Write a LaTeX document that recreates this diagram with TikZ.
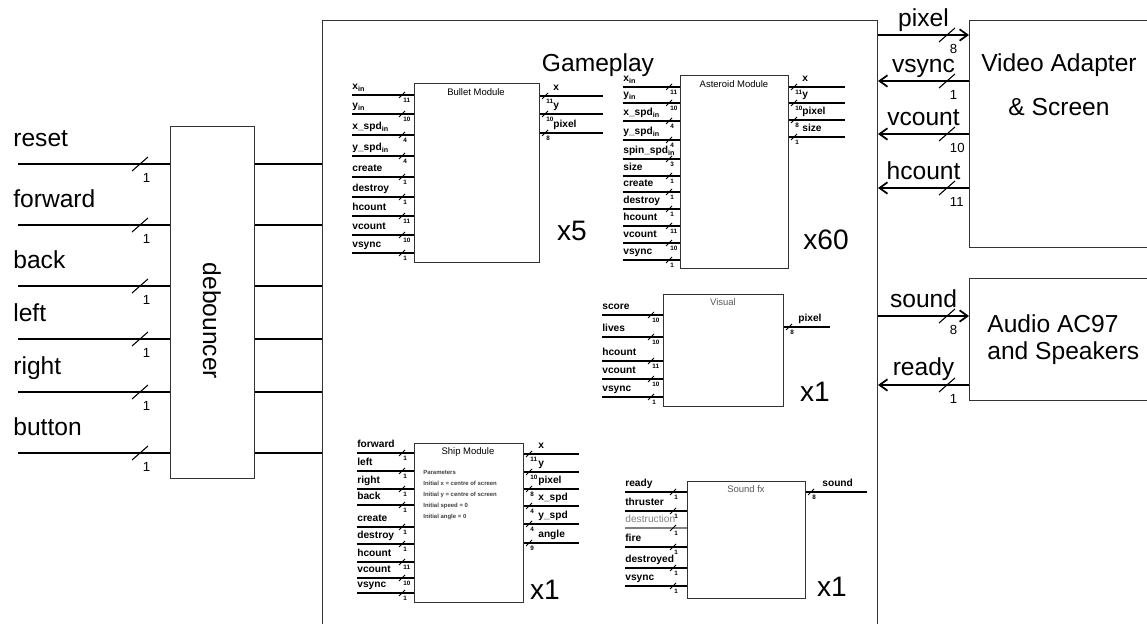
\documentclass[tikz,border=0pt]{standalone}
\usepackage{fontspec}
\setmainfont{Liberation Sans}
\usetikzlibrary{arrows.meta, positioning}

\newcommand{\pxl}{0.02cm}

\tikzset{
  blk/.style={draw=black!80, line width=0.6pt, anchor=north west, inner sep=0pt},
  sig/.style={line width=1.1pt},
  lnk/.style={line width=0.6pt},
  arw/.style={line width=1pt, arrows={-Straight Barb[length=4.5pt, width=6.5pt]}},
  slash/.style={line width=0.45pt},
  bslash/.style={line width=0.6pt},
  sname/.style={font=\fontsize{5.8}{7}\selectfont\bfseries, anchor=base west, inner sep=0pt},
  bw/.style={font=\fontsize{3.6}{4}\selectfont\bfseries, anchor=north west, inner sep=0pt, xshift=0.6pt, yshift=-1.7pt},
  wbig/.style={font=\fontsize{7.5}{9}\selectfont, anchor=north west, inner sep=0pt, xshift=1.5pt, yshift=-5pt},
  big/.style={font=\fontsize{14}{17}\selectfont, inner sep=0pt},
  mult/.style={font=\fontsize{16}{19}\selectfont, anchor=base, inner sep=0pt},
  mtitle/.style={font=\fontsize{5.4}{6.5}\selectfont, anchor=north, inner sep=0pt},
}

\begin{document}
\begin{tikzpicture}[x=0.02cm, y=-0.02cm]
  \useasboundingbox (0,0) rectangle (1147,624);
  \clip (0,0) rectangle (1147,624);

  % Gameplay frame
  \node[blk, minimum width=555*\pxl, minimum height=640*\pxl] (gameplay) at (322,20) {};
  \node[big] (gptitle) at (598,65) {Gameplay};

  % Debouncer
  \node[blk, minimum width=84*\pxl, minimum height=352*\pxl] (deb) at (170,126) {};
  \node[big, rotate=-90] (debtxt) at (212,321) {debouncer};
  \foreach \yy/\nm [count=\i] in {164/reset, 225/forward, 286/back, 339/left, 392/right, 453/button} {
    \coordinate (din\i) at (18,\yy);
    \draw[lnk] (din\i) -- (din\i -| deb.west);
    \draw[lnk] (din\i -| deb.east) -- (din\i -| gameplay.west);
    \node[big, anchor=base west] (dlab\i) at (13,\yy-17) {\nm};
    \path (din\i -| deb.west) ++(-30,0) coordinate (dsl\i);
    \draw[bslash] (dsl\i) ++(-8,7) -- ++(16,-14);
    \node[wbig] (dw\i) at (dsl\i) {1};
  }

  % Bullet Module
  \node[blk, minimum width=125*\pxl, minimum height=179*\pxl] (bullet) at (414,83) {};
  \node[mtitle] (bullettitle) at (476,88) {Bullet Module};
  \foreach \yy/\nm/\wdt [count=\i] in {95/x\textsubscript{in}/11, 114/y\textsubscript{in}/10, 135/x\_spd\textsubscript{in}/4, 156/y\_spd\textsubscript{in}/4, 177/create/1, 197/destroy/1, 216/hcount/11, 235/vcount/10, 253/vsync/1} {
    \coordinate (bi\i) at (352,\yy);
    \draw[sig] (bi\i) -- (bi\i -| bullet.west);
    \node[sname] (bin\i) at (352,\yy-5) {\nm};
    \path (bi\i -| bullet.west) ++(-12,0) coordinate (bis\i);
    \draw[slash] (bis\i) ++(-3,3) -- ++(6,-6);
    \node[bw] (biw\i) at (bis\i) {\wdt};
  }
  \foreach \yy/\nm/\wdt [count=\i] in {96/x/11, 114/y/10, 133/pixel/8} {
    \coordinate (bo\i) at (603,\yy);
    \draw[sig] (bo\i -| bullet.east) -- (bo\i);
    \node[sname] (bon\i) at (553,\yy-5) {\nm};
    \path (bo\i -| bullet.east) ++(5,0) coordinate (bos\i);
    \draw[slash] (bos\i) ++(-3,3) -- ++(6,-6);
    \node[bw] (bow\i) at (bos\i) {\wdt};
  }
  \node[mult] (bulletx) at (572,241) {x5};

  % Asteroid Module
  \node[blk, minimum width=108*\pxl, minimum height=193*\pxl] (asteroid) at (680,75) {};
  \node[mtitle] (asteroidtitle) at (734,80) {Asteroid Module};
  \foreach \yy/\nm/\wdt [count=\i] in {87/x\textsubscript{in}/11, 103/y\textsubscript{in}/10, 121/x\_spd\textsubscript{in}/4, 140/y\_spd\textsubscript{in}/4, 159/spin\_spd\textsubscript{in}/3, 176/size/1, 192/create/1, 209/destroy/1, 226/hcount/11, 243/vcount/10, 260/vsync/1} {
    \coordinate (ai\i) at (623,\yy);
    \draw[sig] (ai\i) -- (ai\i -| asteroid.west);
    \node[sname] (ain\i) at (623,\yy-5) {\nm};
    \path (ai\i -| asteroid.west) ++(-11,0) coordinate (ais\i);
    \draw[slash] (ais\i) ++(-3,3) -- ++(6,-6);
    \node[bw] (aiw\i) at (ais\i) {\wdt};
  }
  \foreach \yy/\nm/\wdt [count=\i] in {87/x/11, 103/y/10, 120/pixel/8, 137/size/1} {
    \coordinate (ao\i) at (845,\yy);
    \draw[sig] (ao\i -| asteroid.east) -- (ao\i);
    \node[sname] (aon\i) at (802,\yy-5) {\nm};
    \path (ao\i -| asteroid.east) ++(5,0) coordinate (aos\i);
    \draw[slash] (aos\i) ++(-3,3) -- ++(6,-6);
    \node[bw] (aow\i) at (aos\i) {\wdt};
  }
  \node[mult] (asteroidx) at (826,250) {x60};

  % Visual
  \node[blk, minimum width=120*\pxl, minimum height=112*\pxl] (visual) at (663,294) {};
  \node[mtitle, text=black!65] (visualtitle) at (723,298) {Visual};
  \foreach \yy/\nm/\wdt [count=\i] in {315/score/10, 337/lives/10, 361/hcount/11, 379/vcount/10, 397/vsync/1} {
    \coordinate (vi\i) at (602,\yy);
    \draw[sig] (vi\i) -- (vi\i -| visual.west);
    \node[sname] (vin\i) at (602,\yy-5) {\nm};
    \path (vi\i -| visual.west) ++(-12,0) coordinate (vis\i);
    \draw[slash] (vis\i) ++(-3,3) -- ++(6,-6);
    \node[bw] (viw\i) at (vis\i) {\wdt};
  }
  \coordinate (vo1) at (830,327);
  \draw[sig] (vo1 -| visual.east) -- (vo1);
  \node[sname] (von1) at (798,322) {pixel};
  \path (vo1 -| visual.east) ++(5,0) coordinate (vos1);
  \draw[slash] (vos1) ++(-3,3) -- ++(6,-6);
  \node[bw] (vow1) at (vos1) {8};
  \node[mult] (visualx) at (815,402) {x1};

  % Ship Module
  \node[blk, minimum width=109*\pxl, minimum height=159*\pxl] (ship) at (414,443) {};
  \node[mtitle] (shiptitle) at (468,447) {Ship Module};
  \node[anchor=north west, align=left, inner sep=0pt, font=\fontsize{3.4}{6.3}\selectfont\bfseries, text=black!75] (shippar) at (423,470)
    {Parameters\\Initial x = centre of screen\\Initial y = centre of screen\\Initial speed = 0\\Initial angle = 0};
  \foreach \yy/\nm/\wdt [count=\i] in {453/forward/1, 471/left/1, 489/right/1, 505/back/1, 527/create/1, 544/destroy/1, 562/hcount/11, 578/vcount/10, 593/vsync/1} {
    \coordinate (si\i) at (357,\yy);
    \draw[sig] (si\i) -- (si\i -| ship.west);
    \node[sname] (sin\i) at (357,\yy-5) {\nm};
    \path (si\i -| ship.west) ++(-12,0) coordinate (sis\i);
    \draw[slash] (sis\i) ++(-3,3) -- ++(6,-6);
    \node[bw] (siw\i) at (sis\i) {\wdt};
  }
  \foreach \yy/\nm/\wdt [count=\i] in {454/x/11, 472/y/10, 489/pixel/8, 506/x\_spd/4, 524/y\_spd/4, 543/angle/9} {
    \coordinate (so\i) at (579,\yy);
    \draw[sig] (so\i -| ship.east) -- (so\i);
    \node[sname] (son\i) at (538,\yy-5) {\nm};
    \path (so\i -| ship.east) ++(5,0) coordinate (sos\i);
    \draw[slash] (sos\i) ++(-3,3) -- ++(6,-6);
    \node[bw] (sow\i) at (sos\i) {\wdt};
  }
  \node[mult] (shipx) at (545,600) {x1};

  % Sound fx
  \node[blk, minimum width=118*\pxl, minimum height=117*\pxl] (sndfx) at (687,481) {};
  \node[mtitle, text=black!65] (sndtitle) at (746,485) {Sound fx};
  \foreach \yy/\nm/\wdt/\cl [count=\i] in {492/ready/1/black, 511/thruster/1/black, 528/{\mdseries destruction}/1/black!50, 547/fire/1/black, 568/destroyed/1/black, 586/vsync/1/black} {
    \coordinate (fi\i) at (625,\yy);
    \draw[sig, draw=\cl] (fi\i) -- (fi\i -| sndfx.west);
    \node[sname, text=\cl] (fin\i) at (625,\yy-5) {\nm};
    \path (fi\i -| sndfx.west) ++(-14,0) coordinate (fis\i);
    \draw[slash] (fis\i) ++(-3,3) -- ++(6,-6);
    \node[bw] (fiw\i) at (fis\i) {\wdt};
  }
  \coordinate (fo1) at (867,492);
  \draw[sig] (fo1 -| sndfx.east) -- (fo1);
  \node[sname] (fon1) at (822,487) {sound};
  \path (fo1 -| sndfx.east) ++(5,0) coordinate (fos1);
  \draw[slash] (fos1) ++(-3,3) -- ++(6,-6);
  \node[bw] (fow1) at (fos1) {8};
  \node[mult] (sndx) at (832,597) {x1};

  % Video Adapter & Screen
  \node[blk, minimum width=200*\pxl, minimum height=227*\pxl] (video) at (969,20) {};
  \node[big, align=center, font=\fontsize{14}{25}\selectfont] (videotxt) at (1059,85) {Video Adapter\\\& Screen};
  \coordinate (gpix) at (gameplay.east |- 0,35);
  \coordinate (gvs) at (gameplay.east |- 0,81);
  \coordinate (gvc) at (gameplay.east |- 0,134);
  \coordinate (ghc) at (gameplay.east |- 0,188);
  \draw[arw] (gpix) -- (gpix -| video.west) node[big, midway, anchor=base, yshift=4.6pt] (lpix) {pixel};
  \draw[arw] (gvs -| video.west) -- (gvs) node[big, midway, anchor=base, yshift=4.6pt] (lvs) {vsync};
  \draw[arw] (gvc -| video.west) -- (gvc) node[big, midway, anchor=base, yshift=4.6pt] (lvc) {vcount};
  \draw[arw] (ghc -| video.west) -- (ghc) node[big, midway, anchor=base, yshift=4.6pt] (lhc) {hcount};
  \foreach \cc/\wdt in {gpix/8, gvs/1, gvc/10, ghc/11} {
    \path (\cc -| video.west) ++(-22,0) coordinate (\cc s);
    \draw[bslash] (\cc s) ++(-8,7) -- ++(16,-14);
    \node[wbig] (\cc w) at (\cc s) {\wdt};
  }

  % Audio AC97 and Speakers
  \node[blk, minimum width=200*\pxl, minimum height=122*\pxl] (audio) at (969,278) {};
  \node[align=left, anchor=west, inner sep=0pt, font=\fontsize{14}{15.4}\selectfont] (audiotxt) at (987,340) {Audio AC97\\and Speakers};
  \coordinate (gsnd) at (gameplay.east |- 0,316);
  \coordinate (grdy) at (gameplay.east |- 0,385);
  \draw[arw] (gsnd) -- (gsnd -| audio.west) node[big, midway, anchor=base, yshift=4.6pt] (lsnd) {sound};
  \draw[arw] (grdy -| audio.west) -- (grdy) node[big, midway, anchor=base, yshift=5.5pt] (lrdy) {ready};
  \foreach \cc/\wdt in {gsnd/8, grdy/1} {
    \path (\cc -| audio.west) ++(-22,0) coordinate (\cc s);
    \draw[bslash] (\cc s) ++(-8,7) -- ++(16,-14);
    \node[wbig] (\cc w) at (\cc s) {\wdt};
  }
\end{tikzpicture}
\end{document}
